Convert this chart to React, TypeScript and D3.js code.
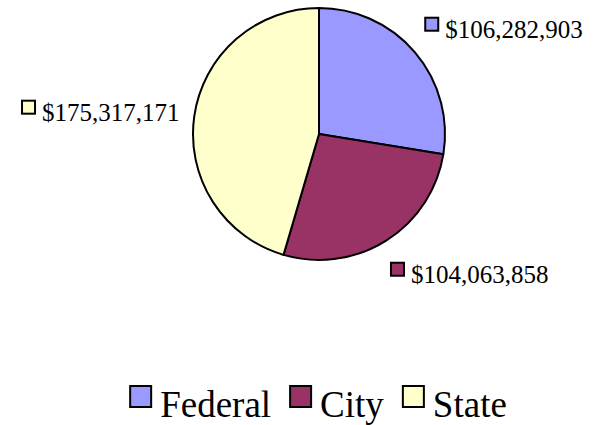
import React, { useRef, useEffect } from "react";
import * as d3 from "d3";

const categories = ["Federal", "City", "State"];
const amounts = [106282903, 104063858, 175317171];
const colors = ["#9999FF", "#993366", "#FFFFCC"];

const width = 595;
const height = 425;

const App = () => {
  const svgRef = useRef<SVGSVGElement>(null);

  useEffect(() => {
    const svg = d3.select(svgRef.current);
    svg.selectAll("*").remove();

    const cx = 319;
    const cy = 134;
    const radius = 126;
    const font = "Liberation Serif";

    const data = categories.map((c, i) => ({ name: c, value: amounts[i], color: colors[i] }));

    const pie = d3.pie<any>().sort(null).value(d => d.value);
    const arcs = pie(data);
    const arc = d3.arc<any>().innerRadius(0).outerRadius(radius);

    const chart = svg.append("g").attr("transform", `translate(${cx},${cy})`);

    chart
      .selectAll("path")
      .data(arcs)
      .join("path")
      .attr("d", arc)
      .attr("fill", d => d.data.color)
      .attr("stroke", "#000")
      .attr("stroke-width", 2)
      .attr("stroke-linejoin", "round");

    // data labels outside the pie
    const fmt = d3.format("$,");
    const labelR = radius + 24;
    const labelSize = 25;
    const boxSize = 15;
    arcs.forEach(a => {
      const mid = (a.startAngle + a.endAngle) / 2;
      const s = Math.sin(mid);
      const c = Math.cos(mid);
      const ax = cx + s * labelR;
      const ay = cy - c * labelR;
      const baseline = ay - 4 + ((1 - c) / 2) * 28;
      const g = svg.append("g");
      const t = g
        .append("text")
        .attr("font-family", font)
        .attr("font-size", labelSize)
        .attr("fill", "#000")
        .text(fmt(a.data.value));
      const tw = (t.node() as SVGTextElement).getComputedTextLength();
      const groupW = boxSize + 6 + tw;
      const left = s > 0 ? ax - 9 : ax + 9 - groupW;
      g.append("rect")
        .attr("x", left + 1)
        .attr("y", baseline - 20)
        .attr("width", boxSize - 2)
        .attr("height", boxSize - 2)
        .attr("fill", a.data.color)
        .attr("stroke", "#000")
        .attr("stroke-width", 2);
      t.attr("x", left + boxSize + 6).attr("y", baseline);
    });

    // legend
    const legendSize = 37;
    const legendBox = 22;
    const legendGap = 9;
    const itemGap = 18;
    const legendBaseline = 417;
    const legend = svg.append("g");
    const items = data.map(d => {
      const g = legend.append("g");
      const t = g
        .append("text")
        .attr("font-family", font)
        .attr("font-size", legendSize)
        .attr("fill", "#000")
        .text(d.name);
      const tw = (t.node() as SVGTextElement).getComputedTextLength();
      return { d, g, t, tw };
    });
    const total =
      d3.sum(items, it => legendBox + legendGap + it.tw) + itemGap * (items.length - 1);
    let x = cx - 1 - total / 2;
    items.forEach(it => {
      it.g
        .insert("rect", "text")
        .attr("x", x + 1)
        .attr("y", legendBaseline - 31)
        .attr("width", legendBox - 1)
        .attr("height", legendBox - 1)
        .attr("fill", it.d.color)
        .attr("stroke", "#000")
        .attr("stroke-width", 2);
      it.t.attr("x", x + legendBox + legendGap).attr("y", legendBaseline);
      x += legendBox + legendGap + it.tw + itemGap;
    });
  }, []);

  return (
    <svg
      ref={svgRef}
      width={width}
      height={height}
      style={{ position: "absolute", left: 0, top: 0, background: "#fff" }}
    ></svg>
  );
};

export default App;
